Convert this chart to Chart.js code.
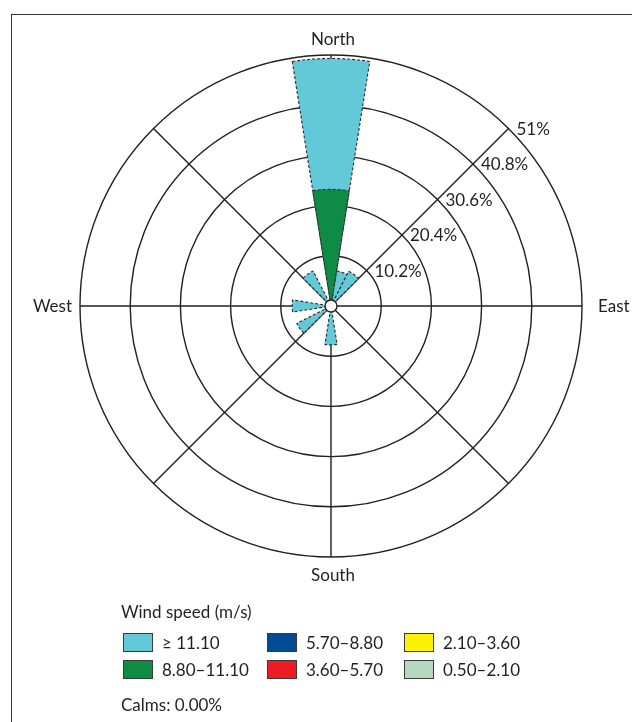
<!DOCTYPE html>
<html>
<head>
<meta charset="utf-8">
<script src="https://cdn.jsdelivr.net/npm/chart.js@4"></script>
<style>
  body { margin: 0; background: #fff; }
  #wrap { position: relative; width: 632px; height: 722px; overflow: hidden; font-family: Lato, "Open Sans", sans-serif; color: #231f20; }
  #frame { position: absolute; left: 11px; top: 14px; width: 700px; height: 800px; border-left: 1.5px solid #333; border-top: 1.5px solid #333; }
  #rose { position: absolute; left: 0; top: 0; }
  .t { position: absolute; font-size: 17px; line-height: 20px; white-space: nowrap; }
  .box { position: absolute; box-sizing: border-box; width: 30px; height: 19px; border: 1.5px solid #3a3a3a; }
</style>
</head>
<body>
<div id="wrap">
  <div id="frame"></div>
  <canvas id="rose" width="632" height="722"></canvas>
  <div id="legend"></div>
</div>
<script>
// 20 direction sectors, 18 degrees each
var directions = [0, 18, 36, 54, 72, 90, 108, 126, 144, 162, 180, 198, 216, 234, 252, 270, 288, 306, 324, 342];

// frequency (%) per sector for each wind speed class
var s050 = [0, 0, 0, 0, 0, 0, 0, 0, 0, 0, 0, 0, 0, 0, 0, 0, 0, 0, 0, 0];
var s210 = [0, 0, 0, 0, 0, 0, 0, 0, 0, 0, 0, 0, 0, 0, 0, 0, 0, 0, 0, 0];
var s360 = [0, 0, 0, 0, 0, 0, 0, 0, 0, 0, 0, 0, 0, 0, 0, 0, 0, 0, 0, 0];
var s570 = [0, 0, 0, 0, 0, 0, 0, 0, 0, 0, 0, 0, 0, 0, 0, 0, 0, 0, 0, 0];
var s880 = [23.7, 0, 0, 0, 0, 0, 0, 0, 0, 0, 0, 0, 0, 0, 0, 0, 0, 0, 0, 0];
var s1110 = [26.6, 7.2, 7.9, 0, 0, 0, 0, 0, 0, 0, 7.9, 0, 0, 7.8, 0, 7.9, 0, 0, 8.0, 0];

var speedLabels = ['0.50–2.10', '2.10–3.60', '3.60–5.70', '5.70–8.80', '8.80–11.10', '≥ 11.10'];
var speedColors = ['#b5d8bf', '#fff200', '#ed1c24', '#004b93', '#0e8c45', '#63c8d8'];
var speedData = [s050, s210, s360, s570, s880, s1110];

var tickValues = [10.2, 20.4, 30.6, 40.8, 51];
var compassNames = ['North', 'East', 'South', 'West'];
var calms = '0.00%';

var ink = '#231f20';
var font = '17px Lato, "Open Sans", sans-serif';

// stack the classes outward: each ring is the running total
var running = directions.map(function () { return 0; });
var datasets = speedData.map(function (vals, k) {
  running = running.map(function (r, i) { return Math.round((r + vals[i]) * 100) / 100; });
  return {
    label: speedLabels[k],
    data: running.slice(),
    backgroundColor: speedColors[k],
    borderColor: '#2b2b2b',
    borderDash: [3, 2],
    borderWidth: function (ctx) { return ctx.raw > 0 ? 1.1 : 0; }
  };
});

var roseGrid = {
  id: 'roseGrid',
  beforeDatasetsDraw: function (chart) {
    var s = chart.scales.r, c = chart.ctx;
    var R = s.getDistanceFromCenterForValue(s.max);
    c.save();
    c.strokeStyle = ink;
    c.lineWidth = 1.4;
    for (var a = 0; a < 360; a += 45) {
      var rad = a * Math.PI / 180;
      c.beginPath();
      c.moveTo(s.xCenter, s.yCenter);
      c.lineTo(s.xCenter + R * Math.sin(rad), s.yCenter - R * Math.cos(rad));
      c.stroke();
    }
    c.restore();
  },
  afterDatasetsDraw: function (chart) {
    var s = chart.scales.r, c = chart.ctx;
    var R = s.getDistanceFromCenterForValue(s.max);
    c.save();
    // calms hole
    c.beginPath();
    c.arc(s.xCenter, s.yCenter, 6, 0, Math.PI * 2);
    c.fillStyle = '#fff';
    c.fill();
    c.strokeStyle = ink;
    c.lineWidth = 1.4;
    c.stroke();

    c.fillStyle = ink;
    c.font = font;
    c.textBaseline = 'middle';
    c.textAlign = 'left';
    tickValues.forEach(function (v) {
      var d = s.getDistanceFromCenterForValue(v) * Math.SQRT1_2;
      c.fillText(v + '%', s.xCenter + d + 8, s.yCenter - d + 1);
    });

    c.textAlign = 'center';
    c.fillText(compassNames[0], s.xCenter + 2, s.yCenter - R - 15);
    c.fillText(compassNames[2], s.xCenter + 2, s.yCenter + R + 19);
    c.textAlign = 'left';
    c.fillText(compassNames[1], s.xCenter + R + 16, s.yCenter + 1);
    c.textAlign = 'right';
    c.fillText(compassNames[3], s.xCenter - R - 8, s.yCenter + 1);
    c.restore();
  }
};

new Chart(document.getElementById('rose'), {
  type: 'polarArea',
  data: {
    labels: directions.map(function (d) { return d + '°'; }),
    datasets: datasets
  },
  options: {
    responsive: false,
    animation: false,
    layout: { padding: { left: 80, top: 55, right: 50, bottom: 165 } },
    plugins: { legend: { display: false }, tooltip: { enabled: false } },
    scales: {
      r: {
        min: 0,
        max: 51,
        startAngle: -9,
        afterBuildTicks: function (scale) {
          scale.ticks = [0].concat(tickValues).map(function (v) { return { value: v }; });
        },
        ticks: { display: false },
        grid: { color: ink, lineWidth: 1.4, circular: true },
        angleLines: { display: false },
        pointLabels: { display: false }
      }
    }
  },
  plugins: [roseGrid]
});

// legend: two rows, highest class first, column by column
var legend = document.getElementById('legend');
var colX = [123, 267, 404], rowY = [633, 660];
var html = '<div class="t" style="left:121px;top:602px">Wind speed (m/s)</div>';
for (var j = 0; j < speedLabels.length; j++) {
  var k = speedLabels.length - 1 - j;
  var x = colX[Math.floor(j / 2)], y = rowY[j % 2];
  html += '<div class="box" style="left:' + x + 'px;top:' + y + 'px;background:' + speedColors[k] + '"></div>';
  html += '<div class="t" style="left:' + (x + 39) + 'px;top:' + (y - 0.5) + 'px">' + speedLabels[k] + '</div>';
}
html += '<div class="t" style="left:121px;top:695px">Calms: ' + calms + '</div>';
legend.innerHTML = html;
</script>
</body>
</html>
